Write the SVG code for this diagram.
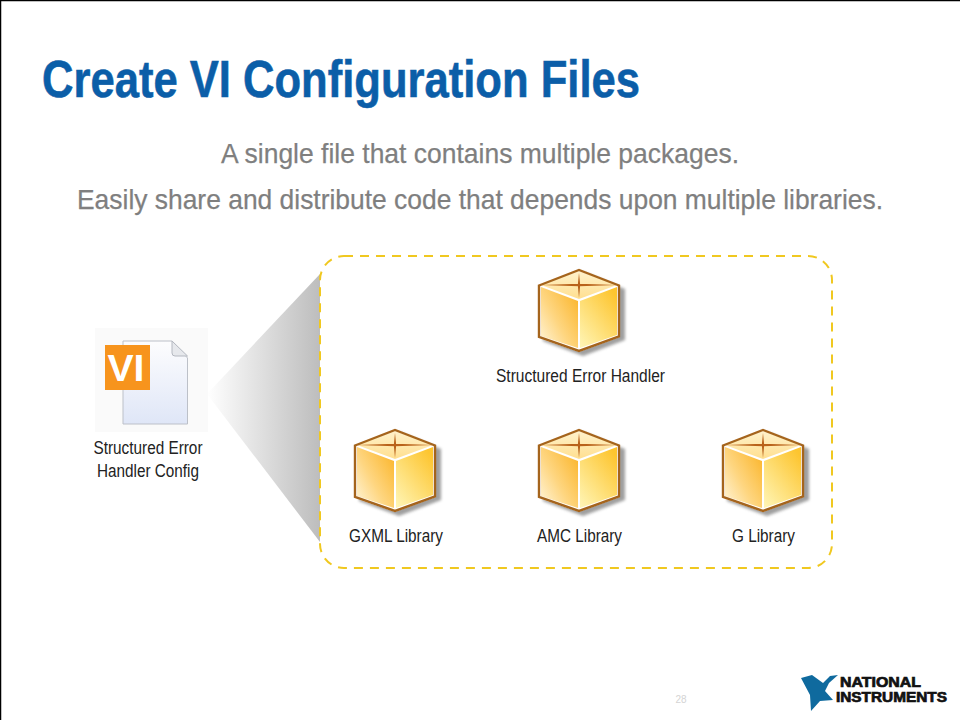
<svg xmlns="http://www.w3.org/2000/svg" width="960" height="720" viewBox="0 0 960 720">
<style>
text{font-family:"Liberation Sans",Arial,sans-serif}
.title{font-size:52px;font-weight:bold;fill:#0b5ea8;stroke:#0b5ea8;stroke-width:0.6}
.sub{font-size:28px;fill:#7f7f7f;text-anchor:middle;stroke:#7f7f7f;stroke-width:0.25}
.lbl{font-size:17.5px;fill:#222;text-anchor:middle}
.logo{font-weight:bold;fill:#111;stroke:#111;stroke-width:0.7}
</style>
<defs>
<linearGradient id="funnel" x1="0" x2="1" y1="0" y2="0"><stop offset="0" stop-color="#fff"/><stop offset="1" stop-color="#bdbdbd"/></linearGradient>
<linearGradient id="page" x1="0" x2="0" y1="0" y2="1"><stop offset="0" stop-color="#fdfdfe"/><stop offset="1" stop-color="#dfe6f7"/></linearGradient>
<linearGradient id="left" x1="0" y1="1" x2="1" y2="0.1"><stop offset="0" stop-color="#fff6dc"/><stop offset="0.45" stop-color="#fed681"/><stop offset="1" stop-color="#fbb52a"/></linearGradient>
<linearGradient id="right" x1="0" y1="1" x2="0.8" y2="0"><stop offset="0" stop-color="#fff6b8"/><stop offset="1" stop-color="#fdc52f"/></linearGradient>
<linearGradient id="top" x1="0" y1="0" x2="0" y2="1"><stop offset="0" stop-color="#fff2cc"/><stop offset="1" stop-color="#ffdf8f"/></linearGradient>
<filter id="soft" x="-20%" y="-20%" width="140%" height="140%"><feGaussianBlur stdDeviation="1.5"/></filter>
<g id="cube">
<path d="M5 20 L45 3 L87 20 L87 71 L45 87 L5 72Z" fill="#777" opacity="0.7" filter="url(#soft)"/>
<path d="M0 16 L41 0 L82 16 L82 68 L41 83 L0 69Z" fill="#fff"/>
<path d="M3 18 L40 32 L40 79 L3 67Z" fill="url(#left)"/>
<path d="M42 32 L79 18 L79 66 L42 79Z" fill="url(#right)"/>
<path d="M3 16 L41 2 L79 16 L41 30Z" fill="url(#top)"/>
<path d="M3 16 L41 14.800 L79 16 L41 17.200Z M41 4 L42.200 16 L41 29 L39.800 16Z" fill="#b9621a"/>
<path d="M1 16.500 L41 1 L81 16.500 L81 67.500 L41 82 L1 68Z" fill="none" stroke="#a5641c" stroke-width="2.400"/>
</g>
</defs>
<rect width="960" height="720" fill="#fff"/>
<path d="M0.500 720 V0.500 H960" fill="none" stroke="#000" stroke-width="1.500"/>
<text class="title" x="42" y="97" textLength="598" lengthAdjust="spacingAndGlyphs">Create VI Configuration Files</text>
<text class="sub" x="480" y="163" textLength="518" lengthAdjust="spacingAndGlyphs">A single file that contains multiple packages.</text>
<text class="sub" x="480" y="209" textLength="806" lengthAdjust="spacingAndGlyphs">Easily share and distribute code that depends upon multiple libraries.</text>
<g id="connectors">
<path id="funnel-shape" d="M207 394 L320 274 L320 542Z" fill="url(#funnel)"/>
</g>
<g id="config-file">
<rect x="95" y="328" width="113" height="104" fill="#fafafa"/>
<path d="M123 341 H172 L187.500 358 V424 H123Z" fill="url(#page)" stroke="#bcc0c8" stroke-width="1"/>
<path d="M172 341 V353 Q172 356 175 356 H187.500Z" fill="#e6e8ec" stroke="#b4b8c0" stroke-width="1"/>
<rect x="105" y="345" width="45" height="45" fill="#f7941d"/>
<text x="126" y="381" font-size="36" font-weight="bold" fill="#fff" text-anchor="middle" textLength="37" lengthAdjust="spacingAndGlyphs">VI</text>
<text class="lbl" x="148" y="454" textLength="109" lengthAdjust="spacingAndGlyphs">Structured Error</text>
<text class="lbl" x="148" y="477" textLength="102" lengthAdjust="spacingAndGlyphs">Handler Config</text>
</g>
<g id="package-frame">
<rect x="320" y="256" width="512" height="312" rx="24" fill="none" stroke="#f0c820" stroke-width="2" stroke-dasharray="9 7"/>
</g>
<g id="structured-error-handler">
<use href="#cube" x="538" y="269"/>
<text class="lbl" x="580.500" y="382" textLength="169" lengthAdjust="spacingAndGlyphs">Structured Error Handler</text>
</g>
<g id="gxml-library">
<use href="#cube" x="354" y="429"/>
<text class="lbl" x="396" y="542" textLength="94" lengthAdjust="spacingAndGlyphs">GXML Library</text>
</g>
<g id="amc-library">
<use href="#cube" x="538" y="429"/>
<text class="lbl" x="579.500" y="542" textLength="85" lengthAdjust="spacingAndGlyphs">AMC Library</text>
</g>
<g id="g-library">
<use href="#cube" x="722" y="429"/>
<text class="lbl" x="763.500" y="542" textLength="63" lengthAdjust="spacingAndGlyphs">G Library</text>
</g>
<text x="681" y="703" font-size="10" fill="#d4d4d4" text-anchor="middle">28</text>
<g id="ni-logo">
<path d="M801 678 L812 675 L823 683 L830 676 L838 675 L829 683 L825 691 L833 700 L820 701 L811 711 L810 695Z" fill="#0f6a9e"/>
<text class="logo" x="840" y="687" font-size="14" textLength="81" lengthAdjust="spacingAndGlyphs">NATIONAL</text>
<text class="logo" x="836" y="702" font-size="14" textLength="111" lengthAdjust="spacingAndGlyphs">INSTRUMENTS</text>
</g>
</svg>
